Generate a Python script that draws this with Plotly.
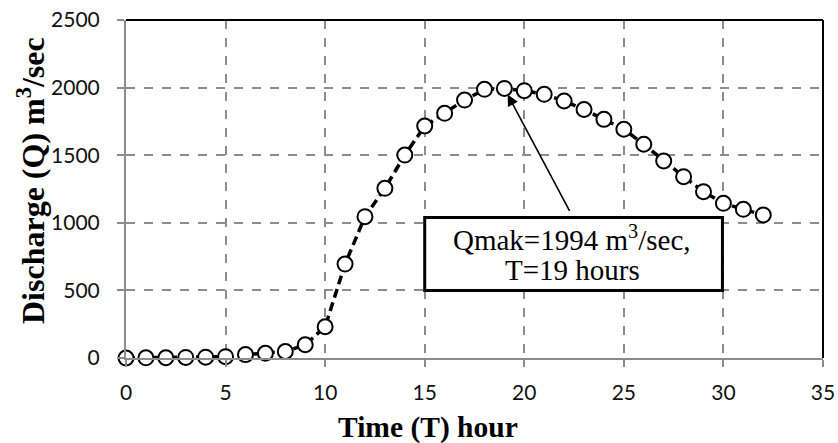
import plotly.graph_objects as go

time_hours = list(range(0, 33))
discharge = [0, 1, 2, 4, 6, 10, 25, 35, 48, 98,
             231, 695, 1045, 1255, 1501, 1716, 1810, 1908, 1987, 1994,
             1977, 1950, 1901, 1838, 1765, 1692, 1581, 1457, 1341, 1230,
             1144, 1100, 1058]

x_ticks = [0, 5, 10, 15, 20, 25, 30, 35]
y_ticks = [0, 500, 1000, 1500, 2000, 2500]

peak_t = 19
peak_q = 1994
box_line1 = "Qmak=1994 m<sup>3</sup>/sec,"
box_line2 = "T=19 hours"
x_title = "Time (T) hour"
y_title = "Discharge (Q) m<sup>3</sup>/sec"

W, H = 838, 443
ML, MR, MT, MB = 126, 15, 20, 85

fig = go.Figure()
fig.add_trace(go.Scatter(
    x=time_hours, y=discharge, mode="lines+markers",
    line=dict(color="black", width=3.5, dash="9px,5px"),
    marker=dict(symbol="circle", size=15, color="white",
                line=dict(color="black", width=2)),
    showlegend=False, cliponaxis=False,
))

tick_font = dict(family="Lato, Open Sans, sans-serif", size=21, color="#111")
serif = "Liberation Serif, Times New Roman, serif"

fig.update_xaxes(
    range=[0, 35], tickvals=x_ticks, showgrid=True, griddash="dash",
    gridcolor="#8c8c8c", gridwidth=1.5, showline=True, linecolor="#8c8c8c",
    linewidth=2, ticks="outside", ticklen=7, tickcolor="#8c8c8c", tickwidth=2,
    tickfont=tick_font, zeroline=False, ticklabelstandoff=8,
    ticklabeloverflow="allow",
)
fig.update_yaxes(
    range=[0, 2500], tickvals=y_ticks, showgrid=True, griddash="dash",
    gridcolor="#8c8c8c", gridwidth=1.5, showline=True, linecolor="#8c8c8c",
    linewidth=2, ticks="outside", ticklen=7, tickcolor="#8c8c8c", tickwidth=2,
    tickfont=tick_font, zeroline=False, ticklabelstandoff=13,
    ticklabeloverflow="allow",
)

# top and right frame (black)
fig.add_shape(type="line", xref="paper", yref="paper", x0=0, x1=1, y0=1, y1=1,
              line=dict(color="black", width=2))
fig.add_shape(type="line", xref="paper", yref="paper", x0=1, x1=1, y0=0, y1=1,
              line=dict(color="black", width=2))

# annotation box
fig.add_shape(type="rect", xref="x", yref="y", x0=15, x1=29.95, y0=500, y1=1040,
              line=dict(color="black", width=3), fillcolor="white", layer="above")

# arrow
fig.add_annotation(x=peak_t, y=peak_q, xref="x", yref="y", text="",
                   showarrow=True, arrowhead=2, arrowsize=1.4, arrowwidth=1.6,
                   arrowcolor="black", ax=66, ay=124, standoff=7)
# box text
fig.add_annotation(x=22.4, y=888, xref="x", yref="y", text=box_line1,
                   showarrow=False, font=dict(family=serif, size=29, color="black"))
fig.add_annotation(x=22.4, y=651, xref="x", yref="y", text=box_line2,
                   showarrow=False, font=dict(family=serif, size=29, color="black"))

# axis titles
fig.add_annotation(xref="paper", yref="paper", x=(428 - 126) / 697, y=-(427 - 358) / 338,
                   text="<b>" + x_title + "</b>", showarrow=False,
                   xanchor="center", yanchor="middle",
                   font=dict(family=serif, size=29.5, color="black"))
fig.add_annotation(xref="paper", yref="paper", x=(31 - 126) / 697, y=(358 - 181) / 338,
                   text="<b>" + y_title + "</b>", showarrow=False, textangle=-90,
                   xanchor="center", yanchor="middle",
                   font=dict(family=serif, size=32, color="black"))

fig.update_layout(
    width=W, height=H,
    margin=dict(l=ML, r=MR, t=MT, b=MB, autoexpand=False),
    plot_bgcolor="white", paper_bgcolor="white",
)

fig.write_html("out.html", config={"displayModeBar": False},
               post_script="document.body.style.margin='0';document.body.style.overflow='hidden';")
